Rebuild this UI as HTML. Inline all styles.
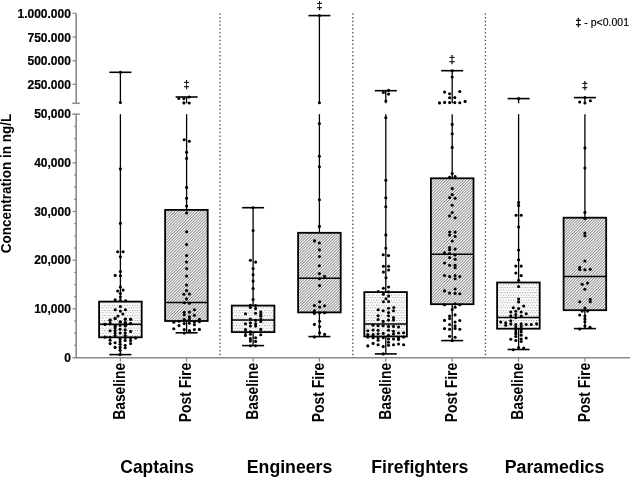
<!DOCTYPE html>
<html><head><meta charset="utf-8"><title>Concentration chart</title>
<style>
html,body{margin:0;padding:0;background:#fff;}
svg{display:block;}
text{font-family:'Liberation Sans', Arial, Helvetica, sans-serif;fill:#000;}
.tl{font-size:12px;font-weight:bold;stroke:#000;stroke-width:0.2px;}
.yt{font-size:14px;font-weight:bold;}
.xl{font-size:15.6px;font-weight:bold;}
.gl{font-size:17.8px;font-weight:bold;}
.lg{font-size:10.5px;stroke:#000;stroke-width:0.15px;}
.dg{font-size:11px;stroke:#000;stroke-width:0.25px;}
</style></head>
<body>
<svg width="630" height="477" viewBox="0 0 630 477">
<defs>
<pattern id="pdot" patternUnits="userSpaceOnUse" width="2.54" height="5.08">
<rect width="2.54" height="5.08" fill="#fff"/>
<rect x="0" y="0" width="1.0" height="1.0" fill="#8e8e8e"/>
<rect x="1.27" y="2.54" width="1.0" height="1.0" fill="#8e8e8e"/>
</pattern>
<pattern id="phatch" patternUnits="userSpaceOnUse" width="2.02" height="4" patternTransform="rotate(45)">
<rect width="2.02" height="4" fill="#fff"/>
<rect x="0" y="0" width="0.95" height="4" fill="#8a8a8a"/>
</pattern>
</defs>
<rect width="630" height="477" fill="#fff"/>
<line x1="76.2" y1="13.4" x2="76.2" y2="103.3" stroke="#8a8a8a" stroke-width="1.6"/>
<line x1="72.3" y1="103.3" x2="79.8" y2="103.3" stroke="#8a8a8a" stroke-width="1.5"/>
<line x1="72.6" y1="13.40" x2="76.2" y2="13.40" stroke="#8a8a8a" stroke-width="1.3"/>
<line x1="72.6" y1="37.06" x2="76.2" y2="37.06" stroke="#8a8a8a" stroke-width="1.3"/>
<line x1="72.6" y1="60.72" x2="76.2" y2="60.72" stroke="#8a8a8a" stroke-width="1.3"/>
<line x1="72.6" y1="84.37" x2="76.2" y2="84.37" stroke="#8a8a8a" stroke-width="1.3"/>
<line x1="76.2" y1="114.2" x2="76.2" y2="357.8" stroke="#8a8a8a" stroke-width="1.6"/>
<line x1="72.3" y1="114.2" x2="79.8" y2="114.2" stroke="#8a8a8a" stroke-width="1.5"/>
<line x1="74.0" y1="345.33" x2="76.2" y2="345.33" stroke="#8a8a8a" stroke-width="1.2"/>
<line x1="74.0" y1="333.17" x2="76.2" y2="333.17" stroke="#8a8a8a" stroke-width="1.2"/>
<line x1="74.0" y1="321.00" x2="76.2" y2="321.00" stroke="#8a8a8a" stroke-width="1.2"/>
<line x1="72.6" y1="308.84" x2="76.2" y2="308.84" stroke="#8a8a8a" stroke-width="1.3"/>
<line x1="74.0" y1="296.68" x2="76.2" y2="296.68" stroke="#8a8a8a" stroke-width="1.2"/>
<line x1="74.0" y1="284.51" x2="76.2" y2="284.51" stroke="#8a8a8a" stroke-width="1.2"/>
<line x1="74.0" y1="272.35" x2="76.2" y2="272.35" stroke="#8a8a8a" stroke-width="1.2"/>
<line x1="72.6" y1="260.18" x2="76.2" y2="260.18" stroke="#8a8a8a" stroke-width="1.3"/>
<line x1="74.0" y1="248.01" x2="76.2" y2="248.01" stroke="#8a8a8a" stroke-width="1.2"/>
<line x1="74.0" y1="235.85" x2="76.2" y2="235.85" stroke="#8a8a8a" stroke-width="1.2"/>
<line x1="74.0" y1="223.69" x2="76.2" y2="223.69" stroke="#8a8a8a" stroke-width="1.2"/>
<line x1="72.6" y1="211.52" x2="76.2" y2="211.52" stroke="#8a8a8a" stroke-width="1.3"/>
<line x1="74.0" y1="199.35" x2="76.2" y2="199.35" stroke="#8a8a8a" stroke-width="1.2"/>
<line x1="74.0" y1="187.19" x2="76.2" y2="187.19" stroke="#8a8a8a" stroke-width="1.2"/>
<line x1="74.0" y1="175.03" x2="76.2" y2="175.03" stroke="#8a8a8a" stroke-width="1.2"/>
<line x1="72.6" y1="162.86" x2="76.2" y2="162.86" stroke="#8a8a8a" stroke-width="1.3"/>
<line x1="74.0" y1="150.69" x2="76.2" y2="150.69" stroke="#8a8a8a" stroke-width="1.2"/>
<line x1="74.0" y1="138.53" x2="76.2" y2="138.53" stroke="#8a8a8a" stroke-width="1.2"/>
<line x1="74.0" y1="126.37" x2="76.2" y2="126.37" stroke="#8a8a8a" stroke-width="1.2"/>
<line x1="72.5" y1="357.8" x2="630" y2="357.8" stroke="#8a8a8a" stroke-width="1.5"/>
<text x="70.9" y="18.00" text-anchor="end" class="tl">1.000.000</text>
<text x="70.9" y="41.66" text-anchor="end" class="tl">750.000</text>
<text x="70.9" y="65.32" text-anchor="end" class="tl">500.000</text>
<text x="70.9" y="88.97" text-anchor="end" class="tl">250.000</text>
<text x="70.9" y="118.40" text-anchor="end" class="tl">50,000</text>
<text x="70.9" y="167.06" text-anchor="end" class="tl">40,000</text>
<text x="70.9" y="215.72" text-anchor="end" class="tl">30,000</text>
<text x="70.9" y="264.38" text-anchor="end" class="tl">20,000</text>
<text x="70.9" y="313.04" text-anchor="end" class="tl">10,000</text>
<text x="70.9" y="361.70" text-anchor="end" class="tl">0</text>
<text transform="translate(10.9,183.5) rotate(-90) scale(0.965,1)" text-anchor="middle" class="yt">Concentration in ng/L</text>
<rect x="219.35" y="13.35" width="1.25" height="1.35" fill="#3c3c3c"/>
<rect x="219.35" y="17.08" width="1.25" height="1.35" fill="#3c3c3c"/>
<rect x="219.35" y="20.80" width="1.25" height="1.35" fill="#3c3c3c"/>
<rect x="219.35" y="24.52" width="1.25" height="1.35" fill="#3c3c3c"/>
<rect x="219.35" y="28.25" width="1.25" height="1.35" fill="#3c3c3c"/>
<rect x="219.35" y="32.08" width="1.25" height="1.35" fill="#3c3c3c"/>
<rect x="219.35" y="35.91" width="1.25" height="1.35" fill="#3c3c3c"/>
<rect x="219.35" y="39.74" width="1.25" height="1.35" fill="#3c3c3c"/>
<rect x="219.35" y="43.57" width="1.25" height="1.35" fill="#3c3c3c"/>
<rect x="219.35" y="47.40" width="1.25" height="1.35" fill="#3c3c3c"/>
<rect x="219.35" y="51.23" width="1.25" height="1.35" fill="#3c3c3c"/>
<rect x="219.35" y="55.06" width="1.25" height="1.35" fill="#3c3c3c"/>
<rect x="219.35" y="58.89" width="1.25" height="1.35" fill="#3c3c3c"/>
<rect x="219.35" y="62.72" width="1.25" height="1.35" fill="#3c3c3c"/>
<rect x="219.35" y="66.56" width="1.25" height="1.35" fill="#3c3c3c"/>
<rect x="219.35" y="70.39" width="1.25" height="1.35" fill="#3c3c3c"/>
<rect x="219.35" y="74.22" width="1.25" height="1.35" fill="#3c3c3c"/>
<rect x="219.35" y="78.05" width="1.25" height="1.35" fill="#3c3c3c"/>
<rect x="219.35" y="81.88" width="1.25" height="1.35" fill="#3c3c3c"/>
<rect x="219.35" y="85.71" width="1.25" height="1.35" fill="#3c3c3c"/>
<rect x="219.35" y="89.54" width="1.25" height="1.35" fill="#3c3c3c"/>
<rect x="219.35" y="93.37" width="1.25" height="1.35" fill="#3c3c3c"/>
<rect x="219.35" y="97.20" width="1.25" height="1.35" fill="#3c3c3c"/>
<rect x="219.35" y="101.03" width="1.25" height="1.35" fill="#3c3c3c"/>
<rect x="219.35" y="104.87" width="1.25" height="1.35" fill="#3c3c3c"/>
<rect x="219.35" y="108.70" width="1.25" height="1.35" fill="#3c3c3c"/>
<rect x="219.35" y="112.53" width="1.25" height="1.35" fill="#3c3c3c"/>
<rect x="219.35" y="116.36" width="1.25" height="1.35" fill="#3c3c3c"/>
<rect x="219.35" y="120.20" width="1.25" height="1.35" fill="#3c3c3c"/>
<rect x="219.35" y="124.03" width="1.25" height="1.35" fill="#3c3c3c"/>
<rect x="219.35" y="127.86" width="1.25" height="1.35" fill="#3c3c3c"/>
<rect x="219.35" y="131.69" width="1.25" height="1.35" fill="#3c3c3c"/>
<rect x="219.35" y="135.53" width="1.25" height="1.35" fill="#3c3c3c"/>
<rect x="219.35" y="139.36" width="1.25" height="1.35" fill="#3c3c3c"/>
<rect x="219.35" y="143.19" width="1.25" height="1.35" fill="#3c3c3c"/>
<rect x="219.35" y="147.03" width="1.25" height="1.35" fill="#3c3c3c"/>
<rect x="219.35" y="150.86" width="1.25" height="1.35" fill="#3c3c3c"/>
<rect x="219.35" y="154.69" width="1.25" height="1.35" fill="#3c3c3c"/>
<rect x="219.35" y="158.52" width="1.25" height="1.35" fill="#3c3c3c"/>
<rect x="219.35" y="162.36" width="1.25" height="1.35" fill="#3c3c3c"/>
<rect x="219.35" y="166.19" width="1.25" height="1.35" fill="#3c3c3c"/>
<rect x="219.35" y="170.02" width="1.25" height="1.35" fill="#3c3c3c"/>
<rect x="219.35" y="173.85" width="1.25" height="1.35" fill="#3c3c3c"/>
<rect x="219.35" y="177.69" width="1.25" height="1.35" fill="#3c3c3c"/>
<rect x="219.35" y="181.52" width="1.25" height="1.35" fill="#3c3c3c"/>
<rect x="219.35" y="185.35" width="1.25" height="1.35" fill="#3c3c3c"/>
<rect x="219.35" y="189.18" width="1.25" height="1.35" fill="#3c3c3c"/>
<rect x="219.35" y="193.02" width="1.25" height="1.35" fill="#3c3c3c"/>
<rect x="219.35" y="196.85" width="1.25" height="1.35" fill="#3c3c3c"/>
<rect x="219.35" y="200.68" width="1.25" height="1.35" fill="#3c3c3c"/>
<rect x="219.35" y="204.52" width="1.25" height="1.35" fill="#3c3c3c"/>
<rect x="219.35" y="208.35" width="1.25" height="1.35" fill="#3c3c3c"/>
<rect x="219.35" y="212.18" width="1.25" height="1.35" fill="#3c3c3c"/>
<rect x="219.35" y="216.02" width="1.25" height="1.35" fill="#3c3c3c"/>
<rect x="219.35" y="219.85" width="1.25" height="1.35" fill="#3c3c3c"/>
<rect x="219.35" y="223.68" width="1.25" height="1.35" fill="#3c3c3c"/>
<rect x="219.35" y="227.52" width="1.25" height="1.35" fill="#3c3c3c"/>
<rect x="219.35" y="231.35" width="1.25" height="1.35" fill="#3c3c3c"/>
<rect x="219.35" y="235.18" width="1.25" height="1.35" fill="#3c3c3c"/>
<rect x="219.35" y="239.02" width="1.25" height="1.35" fill="#3c3c3c"/>
<rect x="219.35" y="242.85" width="1.25" height="1.35" fill="#3c3c3c"/>
<rect x="219.35" y="246.68" width="1.25" height="1.35" fill="#3c3c3c"/>
<rect x="219.35" y="250.52" width="1.25" height="1.35" fill="#3c3c3c"/>
<rect x="219.35" y="254.35" width="1.25" height="1.35" fill="#3c3c3c"/>
<rect x="219.35" y="258.18" width="1.25" height="1.35" fill="#3c3c3c"/>
<rect x="219.35" y="262.02" width="1.25" height="1.35" fill="#3c3c3c"/>
<rect x="219.35" y="265.85" width="1.25" height="1.35" fill="#3c3c3c"/>
<rect x="219.35" y="269.69" width="1.25" height="1.35" fill="#3c3c3c"/>
<rect x="219.35" y="273.53" width="1.25" height="1.35" fill="#3c3c3c"/>
<rect x="219.35" y="277.38" width="1.25" height="1.35" fill="#3c3c3c"/>
<rect x="219.35" y="281.22" width="1.25" height="1.35" fill="#3c3c3c"/>
<rect x="219.35" y="285.06" width="1.25" height="1.35" fill="#3c3c3c"/>
<rect x="219.35" y="288.90" width="1.25" height="1.35" fill="#3c3c3c"/>
<rect x="219.35" y="292.74" width="1.25" height="1.35" fill="#3c3c3c"/>
<rect x="219.35" y="296.59" width="1.25" height="1.35" fill="#3c3c3c"/>
<rect x="219.35" y="300.43" width="1.25" height="1.35" fill="#3c3c3c"/>
<rect x="219.35" y="304.27" width="1.25" height="1.35" fill="#3c3c3c"/>
<rect x="219.35" y="308.11" width="1.25" height="1.35" fill="#3c3c3c"/>
<rect x="219.35" y="311.96" width="1.25" height="1.35" fill="#3c3c3c"/>
<rect x="219.35" y="315.80" width="1.25" height="1.35" fill="#3c3c3c"/>
<rect x="219.35" y="319.64" width="1.25" height="1.35" fill="#3c3c3c"/>
<rect x="219.35" y="323.48" width="1.25" height="1.35" fill="#3c3c3c"/>
<rect x="219.35" y="327.32" width="1.25" height="1.35" fill="#3c3c3c"/>
<rect x="219.35" y="331.17" width="1.25" height="1.35" fill="#3c3c3c"/>
<rect x="219.35" y="335.01" width="1.25" height="1.35" fill="#3c3c3c"/>
<rect x="219.35" y="338.85" width="1.25" height="1.35" fill="#3c3c3c"/>
<rect x="219.35" y="342.58" width="1.25" height="1.35" fill="#3c3c3c"/>
<rect x="219.35" y="346.30" width="1.25" height="1.35" fill="#3c3c3c"/>
<rect x="219.35" y="350.02" width="1.25" height="1.35" fill="#3c3c3c"/>
<rect x="219.35" y="353.75" width="1.25" height="1.35" fill="#3c3c3c"/>
<rect x="352.20" y="13.35" width="1.25" height="1.35" fill="#3c3c3c"/>
<rect x="352.20" y="17.08" width="1.25" height="1.35" fill="#3c3c3c"/>
<rect x="352.20" y="20.80" width="1.25" height="1.35" fill="#3c3c3c"/>
<rect x="352.20" y="24.52" width="1.25" height="1.35" fill="#3c3c3c"/>
<rect x="352.20" y="28.25" width="1.25" height="1.35" fill="#3c3c3c"/>
<rect x="352.20" y="32.08" width="1.25" height="1.35" fill="#3c3c3c"/>
<rect x="352.20" y="35.91" width="1.25" height="1.35" fill="#3c3c3c"/>
<rect x="352.20" y="39.74" width="1.25" height="1.35" fill="#3c3c3c"/>
<rect x="352.20" y="43.57" width="1.25" height="1.35" fill="#3c3c3c"/>
<rect x="352.20" y="47.40" width="1.25" height="1.35" fill="#3c3c3c"/>
<rect x="352.20" y="51.23" width="1.25" height="1.35" fill="#3c3c3c"/>
<rect x="352.20" y="55.06" width="1.25" height="1.35" fill="#3c3c3c"/>
<rect x="352.20" y="58.89" width="1.25" height="1.35" fill="#3c3c3c"/>
<rect x="352.20" y="62.72" width="1.25" height="1.35" fill="#3c3c3c"/>
<rect x="352.20" y="66.56" width="1.25" height="1.35" fill="#3c3c3c"/>
<rect x="352.20" y="70.39" width="1.25" height="1.35" fill="#3c3c3c"/>
<rect x="352.20" y="74.22" width="1.25" height="1.35" fill="#3c3c3c"/>
<rect x="352.20" y="78.05" width="1.25" height="1.35" fill="#3c3c3c"/>
<rect x="352.20" y="81.88" width="1.25" height="1.35" fill="#3c3c3c"/>
<rect x="352.20" y="85.71" width="1.25" height="1.35" fill="#3c3c3c"/>
<rect x="352.20" y="89.54" width="1.25" height="1.35" fill="#3c3c3c"/>
<rect x="352.20" y="93.37" width="1.25" height="1.35" fill="#3c3c3c"/>
<rect x="352.20" y="97.20" width="1.25" height="1.35" fill="#3c3c3c"/>
<rect x="352.20" y="101.03" width="1.25" height="1.35" fill="#3c3c3c"/>
<rect x="352.20" y="104.87" width="1.25" height="1.35" fill="#3c3c3c"/>
<rect x="352.20" y="108.70" width="1.25" height="1.35" fill="#3c3c3c"/>
<rect x="352.20" y="112.53" width="1.25" height="1.35" fill="#3c3c3c"/>
<rect x="352.20" y="116.36" width="1.25" height="1.35" fill="#3c3c3c"/>
<rect x="352.20" y="120.20" width="1.25" height="1.35" fill="#3c3c3c"/>
<rect x="352.20" y="124.03" width="1.25" height="1.35" fill="#3c3c3c"/>
<rect x="352.20" y="127.86" width="1.25" height="1.35" fill="#3c3c3c"/>
<rect x="352.20" y="131.69" width="1.25" height="1.35" fill="#3c3c3c"/>
<rect x="352.20" y="135.53" width="1.25" height="1.35" fill="#3c3c3c"/>
<rect x="352.20" y="139.36" width="1.25" height="1.35" fill="#3c3c3c"/>
<rect x="352.20" y="143.19" width="1.25" height="1.35" fill="#3c3c3c"/>
<rect x="352.20" y="147.03" width="1.25" height="1.35" fill="#3c3c3c"/>
<rect x="352.20" y="150.86" width="1.25" height="1.35" fill="#3c3c3c"/>
<rect x="352.20" y="154.69" width="1.25" height="1.35" fill="#3c3c3c"/>
<rect x="352.20" y="158.52" width="1.25" height="1.35" fill="#3c3c3c"/>
<rect x="352.20" y="162.36" width="1.25" height="1.35" fill="#3c3c3c"/>
<rect x="352.20" y="166.19" width="1.25" height="1.35" fill="#3c3c3c"/>
<rect x="352.20" y="170.02" width="1.25" height="1.35" fill="#3c3c3c"/>
<rect x="352.20" y="173.85" width="1.25" height="1.35" fill="#3c3c3c"/>
<rect x="352.20" y="177.69" width="1.25" height="1.35" fill="#3c3c3c"/>
<rect x="352.20" y="181.52" width="1.25" height="1.35" fill="#3c3c3c"/>
<rect x="352.20" y="185.35" width="1.25" height="1.35" fill="#3c3c3c"/>
<rect x="352.20" y="189.18" width="1.25" height="1.35" fill="#3c3c3c"/>
<rect x="352.20" y="193.02" width="1.25" height="1.35" fill="#3c3c3c"/>
<rect x="352.20" y="196.85" width="1.25" height="1.35" fill="#3c3c3c"/>
<rect x="352.20" y="200.68" width="1.25" height="1.35" fill="#3c3c3c"/>
<rect x="352.20" y="204.52" width="1.25" height="1.35" fill="#3c3c3c"/>
<rect x="352.20" y="208.35" width="1.25" height="1.35" fill="#3c3c3c"/>
<rect x="352.20" y="212.18" width="1.25" height="1.35" fill="#3c3c3c"/>
<rect x="352.20" y="216.02" width="1.25" height="1.35" fill="#3c3c3c"/>
<rect x="352.20" y="219.85" width="1.25" height="1.35" fill="#3c3c3c"/>
<rect x="352.20" y="223.68" width="1.25" height="1.35" fill="#3c3c3c"/>
<rect x="352.20" y="227.52" width="1.25" height="1.35" fill="#3c3c3c"/>
<rect x="352.20" y="231.35" width="1.25" height="1.35" fill="#3c3c3c"/>
<rect x="352.20" y="235.18" width="1.25" height="1.35" fill="#3c3c3c"/>
<rect x="352.20" y="239.02" width="1.25" height="1.35" fill="#3c3c3c"/>
<rect x="352.20" y="242.85" width="1.25" height="1.35" fill="#3c3c3c"/>
<rect x="352.20" y="246.68" width="1.25" height="1.35" fill="#3c3c3c"/>
<rect x="352.20" y="250.52" width="1.25" height="1.35" fill="#3c3c3c"/>
<rect x="352.20" y="254.35" width="1.25" height="1.35" fill="#3c3c3c"/>
<rect x="352.20" y="258.18" width="1.25" height="1.35" fill="#3c3c3c"/>
<rect x="352.20" y="262.02" width="1.25" height="1.35" fill="#3c3c3c"/>
<rect x="352.20" y="265.85" width="1.25" height="1.35" fill="#3c3c3c"/>
<rect x="352.20" y="269.69" width="1.25" height="1.35" fill="#3c3c3c"/>
<rect x="352.20" y="273.53" width="1.25" height="1.35" fill="#3c3c3c"/>
<rect x="352.20" y="277.38" width="1.25" height="1.35" fill="#3c3c3c"/>
<rect x="352.20" y="281.22" width="1.25" height="1.35" fill="#3c3c3c"/>
<rect x="352.20" y="285.06" width="1.25" height="1.35" fill="#3c3c3c"/>
<rect x="352.20" y="288.90" width="1.25" height="1.35" fill="#3c3c3c"/>
<rect x="352.20" y="292.74" width="1.25" height="1.35" fill="#3c3c3c"/>
<rect x="352.20" y="296.59" width="1.25" height="1.35" fill="#3c3c3c"/>
<rect x="352.20" y="300.43" width="1.25" height="1.35" fill="#3c3c3c"/>
<rect x="352.20" y="304.27" width="1.25" height="1.35" fill="#3c3c3c"/>
<rect x="352.20" y="308.11" width="1.25" height="1.35" fill="#3c3c3c"/>
<rect x="352.20" y="311.96" width="1.25" height="1.35" fill="#3c3c3c"/>
<rect x="352.20" y="315.80" width="1.25" height="1.35" fill="#3c3c3c"/>
<rect x="352.20" y="319.64" width="1.25" height="1.35" fill="#3c3c3c"/>
<rect x="352.20" y="323.48" width="1.25" height="1.35" fill="#3c3c3c"/>
<rect x="352.20" y="327.32" width="1.25" height="1.35" fill="#3c3c3c"/>
<rect x="352.20" y="331.17" width="1.25" height="1.35" fill="#3c3c3c"/>
<rect x="352.20" y="335.01" width="1.25" height="1.35" fill="#3c3c3c"/>
<rect x="352.20" y="338.85" width="1.25" height="1.35" fill="#3c3c3c"/>
<rect x="352.20" y="342.58" width="1.25" height="1.35" fill="#3c3c3c"/>
<rect x="352.20" y="346.30" width="1.25" height="1.35" fill="#3c3c3c"/>
<rect x="352.20" y="350.02" width="1.25" height="1.35" fill="#3c3c3c"/>
<rect x="352.20" y="353.75" width="1.25" height="1.35" fill="#3c3c3c"/>
<rect x="484.80" y="13.35" width="1.25" height="1.35" fill="#3c3c3c"/>
<rect x="484.80" y="17.08" width="1.25" height="1.35" fill="#3c3c3c"/>
<rect x="484.80" y="20.80" width="1.25" height="1.35" fill="#3c3c3c"/>
<rect x="484.80" y="24.52" width="1.25" height="1.35" fill="#3c3c3c"/>
<rect x="484.80" y="28.25" width="1.25" height="1.35" fill="#3c3c3c"/>
<rect x="484.80" y="32.08" width="1.25" height="1.35" fill="#3c3c3c"/>
<rect x="484.80" y="35.91" width="1.25" height="1.35" fill="#3c3c3c"/>
<rect x="484.80" y="39.74" width="1.25" height="1.35" fill="#3c3c3c"/>
<rect x="484.80" y="43.57" width="1.25" height="1.35" fill="#3c3c3c"/>
<rect x="484.80" y="47.40" width="1.25" height="1.35" fill="#3c3c3c"/>
<rect x="484.80" y="51.23" width="1.25" height="1.35" fill="#3c3c3c"/>
<rect x="484.80" y="55.06" width="1.25" height="1.35" fill="#3c3c3c"/>
<rect x="484.80" y="58.89" width="1.25" height="1.35" fill="#3c3c3c"/>
<rect x="484.80" y="62.72" width="1.25" height="1.35" fill="#3c3c3c"/>
<rect x="484.80" y="66.56" width="1.25" height="1.35" fill="#3c3c3c"/>
<rect x="484.80" y="70.39" width="1.25" height="1.35" fill="#3c3c3c"/>
<rect x="484.80" y="74.22" width="1.25" height="1.35" fill="#3c3c3c"/>
<rect x="484.80" y="78.05" width="1.25" height="1.35" fill="#3c3c3c"/>
<rect x="484.80" y="81.88" width="1.25" height="1.35" fill="#3c3c3c"/>
<rect x="484.80" y="85.71" width="1.25" height="1.35" fill="#3c3c3c"/>
<rect x="484.80" y="89.54" width="1.25" height="1.35" fill="#3c3c3c"/>
<rect x="484.80" y="93.37" width="1.25" height="1.35" fill="#3c3c3c"/>
<rect x="484.80" y="97.20" width="1.25" height="1.35" fill="#3c3c3c"/>
<rect x="484.80" y="101.03" width="1.25" height="1.35" fill="#3c3c3c"/>
<rect x="484.80" y="104.87" width="1.25" height="1.35" fill="#3c3c3c"/>
<rect x="484.80" y="108.70" width="1.25" height="1.35" fill="#3c3c3c"/>
<rect x="484.80" y="112.53" width="1.25" height="1.35" fill="#3c3c3c"/>
<rect x="484.80" y="116.36" width="1.25" height="1.35" fill="#3c3c3c"/>
<rect x="484.80" y="120.20" width="1.25" height="1.35" fill="#3c3c3c"/>
<rect x="484.80" y="124.03" width="1.25" height="1.35" fill="#3c3c3c"/>
<rect x="484.80" y="127.86" width="1.25" height="1.35" fill="#3c3c3c"/>
<rect x="484.80" y="131.69" width="1.25" height="1.35" fill="#3c3c3c"/>
<rect x="484.80" y="135.53" width="1.25" height="1.35" fill="#3c3c3c"/>
<rect x="484.80" y="139.36" width="1.25" height="1.35" fill="#3c3c3c"/>
<rect x="484.80" y="143.19" width="1.25" height="1.35" fill="#3c3c3c"/>
<rect x="484.80" y="147.03" width="1.25" height="1.35" fill="#3c3c3c"/>
<rect x="484.80" y="150.86" width="1.25" height="1.35" fill="#3c3c3c"/>
<rect x="484.80" y="154.69" width="1.25" height="1.35" fill="#3c3c3c"/>
<rect x="484.80" y="158.52" width="1.25" height="1.35" fill="#3c3c3c"/>
<rect x="484.80" y="162.36" width="1.25" height="1.35" fill="#3c3c3c"/>
<rect x="484.80" y="166.19" width="1.25" height="1.35" fill="#3c3c3c"/>
<rect x="484.80" y="170.02" width="1.25" height="1.35" fill="#3c3c3c"/>
<rect x="484.80" y="173.85" width="1.25" height="1.35" fill="#3c3c3c"/>
<rect x="484.80" y="177.69" width="1.25" height="1.35" fill="#3c3c3c"/>
<rect x="484.80" y="181.52" width="1.25" height="1.35" fill="#3c3c3c"/>
<rect x="484.80" y="185.35" width="1.25" height="1.35" fill="#3c3c3c"/>
<rect x="484.80" y="189.18" width="1.25" height="1.35" fill="#3c3c3c"/>
<rect x="484.80" y="193.02" width="1.25" height="1.35" fill="#3c3c3c"/>
<rect x="484.80" y="196.85" width="1.25" height="1.35" fill="#3c3c3c"/>
<rect x="484.80" y="200.68" width="1.25" height="1.35" fill="#3c3c3c"/>
<rect x="484.80" y="204.52" width="1.25" height="1.35" fill="#3c3c3c"/>
<rect x="484.80" y="208.35" width="1.25" height="1.35" fill="#3c3c3c"/>
<rect x="484.80" y="212.18" width="1.25" height="1.35" fill="#3c3c3c"/>
<rect x="484.80" y="216.02" width="1.25" height="1.35" fill="#3c3c3c"/>
<rect x="484.80" y="219.85" width="1.25" height="1.35" fill="#3c3c3c"/>
<rect x="484.80" y="223.68" width="1.25" height="1.35" fill="#3c3c3c"/>
<rect x="484.80" y="227.52" width="1.25" height="1.35" fill="#3c3c3c"/>
<rect x="484.80" y="231.35" width="1.25" height="1.35" fill="#3c3c3c"/>
<rect x="484.80" y="235.18" width="1.25" height="1.35" fill="#3c3c3c"/>
<rect x="484.80" y="239.02" width="1.25" height="1.35" fill="#3c3c3c"/>
<rect x="484.80" y="242.85" width="1.25" height="1.35" fill="#3c3c3c"/>
<rect x="484.80" y="246.68" width="1.25" height="1.35" fill="#3c3c3c"/>
<rect x="484.80" y="250.52" width="1.25" height="1.35" fill="#3c3c3c"/>
<rect x="484.80" y="254.35" width="1.25" height="1.35" fill="#3c3c3c"/>
<rect x="484.80" y="258.18" width="1.25" height="1.35" fill="#3c3c3c"/>
<rect x="484.80" y="262.02" width="1.25" height="1.35" fill="#3c3c3c"/>
<rect x="484.80" y="265.85" width="1.25" height="1.35" fill="#3c3c3c"/>
<rect x="484.80" y="269.69" width="1.25" height="1.35" fill="#3c3c3c"/>
<rect x="484.80" y="273.53" width="1.25" height="1.35" fill="#3c3c3c"/>
<rect x="484.80" y="277.38" width="1.25" height="1.35" fill="#3c3c3c"/>
<rect x="484.80" y="281.22" width="1.25" height="1.35" fill="#3c3c3c"/>
<rect x="484.80" y="285.06" width="1.25" height="1.35" fill="#3c3c3c"/>
<rect x="484.80" y="288.90" width="1.25" height="1.35" fill="#3c3c3c"/>
<rect x="484.80" y="292.74" width="1.25" height="1.35" fill="#3c3c3c"/>
<rect x="484.80" y="296.59" width="1.25" height="1.35" fill="#3c3c3c"/>
<rect x="484.80" y="300.43" width="1.25" height="1.35" fill="#3c3c3c"/>
<rect x="484.80" y="304.27" width="1.25" height="1.35" fill="#3c3c3c"/>
<rect x="484.80" y="308.11" width="1.25" height="1.35" fill="#3c3c3c"/>
<rect x="484.80" y="311.96" width="1.25" height="1.35" fill="#3c3c3c"/>
<rect x="484.80" y="315.80" width="1.25" height="1.35" fill="#3c3c3c"/>
<rect x="484.80" y="319.64" width="1.25" height="1.35" fill="#3c3c3c"/>
<rect x="484.80" y="323.48" width="1.25" height="1.35" fill="#3c3c3c"/>
<rect x="484.80" y="327.32" width="1.25" height="1.35" fill="#3c3c3c"/>
<rect x="484.80" y="331.17" width="1.25" height="1.35" fill="#3c3c3c"/>
<rect x="484.80" y="335.01" width="1.25" height="1.35" fill="#3c3c3c"/>
<rect x="484.80" y="338.85" width="1.25" height="1.35" fill="#3c3c3c"/>
<rect x="484.80" y="342.58" width="1.25" height="1.35" fill="#3c3c3c"/>
<rect x="484.80" y="346.30" width="1.25" height="1.35" fill="#3c3c3c"/>
<rect x="484.80" y="350.02" width="1.25" height="1.35" fill="#3c3c3c"/>
<rect x="484.80" y="353.75" width="1.25" height="1.35" fill="#3c3c3c"/>
<line x1="120.4" y1="72.3" x2="120.4" y2="103.3" stroke="#000" stroke-width="1.3"/>
<line x1="109.40" y1="72.3" x2="131.40" y2="72.3" stroke="#000" stroke-width="1.6"/>
<line x1="120.4" y1="114.2" x2="120.4" y2="301.6" stroke="#000" stroke-width="1.3"/>
<line x1="120.4" y1="337.3" x2="120.4" y2="354.6" stroke="#000" stroke-width="1.3"/>
<line x1="109.40" y1="354.6" x2="131.40" y2="354.6" stroke="#000" stroke-width="1.6"/>
<rect x="99.10" y="301.6" width="42.60" height="35.70" fill="url(#pdot)" stroke="#000" stroke-width="1.8"/>
<line x1="99.10" y1="324.3" x2="141.70" y2="324.3" stroke="#000" stroke-width="1.5"/>
<circle cx="120.4" cy="72.3" r="1.55"/>
<circle cx="120.4" cy="102.5" r="1.55"/>
<circle cx="120.4" cy="168.9" r="1.55"/>
<circle cx="120.4" cy="223.4" r="1.55"/>
<circle cx="117.7" cy="251.8" r="1.55"/>
<circle cx="123.1" cy="251.8" r="1.55"/>
<circle cx="120.4" cy="256.7" r="1.55"/>
<circle cx="120.4" cy="271.6" r="1.55"/>
<circle cx="115.2" cy="275.4" r="1.55"/>
<circle cx="120.4" cy="275.8" r="1.55"/>
<circle cx="120.4" cy="286.9" r="1.55"/>
<circle cx="117.7" cy="291" r="1.55"/>
<circle cx="123.1" cy="290.1" r="1.55"/>
<circle cx="120.4" cy="293.5" r="1.55"/>
<circle cx="120.4" cy="297.1" r="1.55"/>
<circle cx="115.2" cy="299.9" r="1.55"/>
<circle cx="120.4" cy="300.5" r="1.55"/>
<circle cx="125.6" cy="300.8" r="1.55"/>
<circle cx="120.4" cy="306.5" r="1.55"/>
<circle cx="115.2" cy="309.7" r="1.55"/>
<circle cx="125.4" cy="309.7" r="1.55"/>
<circle cx="120.4" cy="311.1" r="1.55"/>
<circle cx="122.8" cy="314" r="1.55"/>
<circle cx="118" cy="316" r="1.55"/>
<circle cx="115.2" cy="318.4" r="1.55"/>
<circle cx="125.4" cy="319" r="1.55"/>
<circle cx="130.6" cy="319.2" r="1.55"/>
<circle cx="110.1" cy="320.4" r="1.55"/>
<circle cx="120.4" cy="322" r="1.55"/>
<circle cx="125.4" cy="322.8" r="1.55"/>
<circle cx="104.9" cy="324.2" r="1.55"/>
<circle cx="110.1" cy="323.6" r="1.55"/>
<circle cx="130.6" cy="323.6" r="1.55"/>
<circle cx="125.4" cy="325.2" r="1.55"/>
<circle cx="115.2" cy="326" r="1.55"/>
<circle cx="105.0" cy="324.3" r="1.55"/>
<circle cx="105.0" cy="337.1" r="1.55"/>
<circle cx="110.1" cy="320.1" r="1.55"/>
<circle cx="110.1" cy="323.9" r="1.55"/>
<circle cx="110.1" cy="330.7" r="1.55"/>
<circle cx="110.1" cy="337.3" r="1.55"/>
<circle cx="110.1" cy="340.2" r="1.55"/>
<circle cx="110.1" cy="343.6" r="1.55"/>
<circle cx="115.1" cy="318.4" r="1.55"/>
<circle cx="115.1" cy="326" r="1.55"/>
<circle cx="115.1" cy="328.1" r="1.55"/>
<circle cx="115.1" cy="330.6" r="1.55"/>
<circle cx="115.1" cy="333.1" r="1.55"/>
<circle cx="115.1" cy="335.6" r="1.55"/>
<circle cx="115.1" cy="342.7" r="1.55"/>
<circle cx="115.1" cy="347.4" r="1.55"/>
<circle cx="120.1" cy="321.8" r="1.55"/>
<circle cx="120.1" cy="325.5" r="1.55"/>
<circle cx="120.1" cy="329.3" r="1.55"/>
<circle cx="120.1" cy="333.1" r="1.55"/>
<circle cx="120.1" cy="339" r="1.55"/>
<circle cx="120.1" cy="341.6" r="1.55"/>
<circle cx="120.1" cy="344.2" r="1.55"/>
<circle cx="120.1" cy="347.4" r="1.55"/>
<circle cx="120.1" cy="350.3" r="1.55"/>
<circle cx="120.1" cy="354.6" r="1.55"/>
<circle cx="125.2" cy="319.3" r="1.55"/>
<circle cx="125.2" cy="322.6" r="1.55"/>
<circle cx="125.2" cy="326" r="1.55"/>
<circle cx="125.2" cy="329.7" r="1.55"/>
<circle cx="125.2" cy="332.7" r="1.55"/>
<circle cx="125.2" cy="335.6" r="1.55"/>
<circle cx="125.2" cy="337.8" r="1.55"/>
<circle cx="125.2" cy="340.5" r="1.55"/>
<circle cx="125.2" cy="345.3" r="1.55"/>
<circle cx="125.2" cy="347.8" r="1.55"/>
<circle cx="130.6" cy="319.3" r="1.55"/>
<circle cx="130.6" cy="323.5" r="1.55"/>
<circle cx="130.6" cy="331.4" r="1.55"/>
<circle cx="130.6" cy="338.1" r="1.55"/>
<circle cx="130.6" cy="340.6" r="1.55"/>
<circle cx="130.6" cy="343.6" r="1.55"/>
<circle cx="135.6" cy="338.1" r="1.55"/>
<line x1="186.6" y1="97.0" x2="186.6" y2="103.3" stroke="#000" stroke-width="1.3"/>
<line x1="175.60" y1="97.0" x2="197.60" y2="97.0" stroke="#000" stroke-width="1.6"/>
<line x1="186.6" y1="114.2" x2="186.6" y2="209.9" stroke="#000" stroke-width="1.3"/>
<line x1="186.6" y1="321.0" x2="186.6" y2="332.8" stroke="#000" stroke-width="1.3"/>
<line x1="175.60" y1="332.8" x2="197.60" y2="332.8" stroke="#000" stroke-width="1.6"/>
<rect x="165.10" y="209.9" width="42.60" height="111.10" fill="url(#phatch)" stroke="#000" stroke-width="1.8"/>
<line x1="165.10" y1="302.6" x2="207.70" y2="302.6" stroke="#000" stroke-width="1.5"/>
<circle cx="178.8" cy="98.5" r="1.55"/>
<circle cx="183.8" cy="98.6" r="1.55"/>
<circle cx="189.2" cy="97" r="1.55"/>
<circle cx="183.9" cy="102.9" r="1.55"/>
<circle cx="189.2" cy="103" r="1.55"/>
<circle cx="184.2" cy="139.7" r="1.55"/>
<circle cx="189.3" cy="141.2" r="1.55"/>
<circle cx="186.6" cy="152.2" r="1.55"/>
<circle cx="186.6" cy="158.4" r="1.55"/>
<circle cx="186.6" cy="187.4" r="1.55"/>
<circle cx="186.6" cy="198.3" r="1.55"/>
<circle cx="186.6" cy="206" r="1.55"/>
<circle cx="186.6" cy="212.9" r="1.55"/>
<circle cx="186.6" cy="231.7" r="1.55"/>
<circle cx="186.6" cy="244.6" r="1.55"/>
<circle cx="186.6" cy="255.6" r="1.55"/>
<circle cx="186.6" cy="262" r="1.55"/>
<circle cx="186.6" cy="268.6" r="1.55"/>
<circle cx="186.6" cy="276.1" r="1.55"/>
<circle cx="186.6" cy="285.1" r="1.55"/>
<circle cx="186.6" cy="290.6" r="1.55"/>
<circle cx="183.9" cy="294.3" r="1.55"/>
<circle cx="189.4" cy="294" r="1.55"/>
<circle cx="186.6" cy="298.9" r="1.55"/>
<circle cx="184.2" cy="302.8" r="1.55"/>
<circle cx="189.4" cy="303.3" r="1.55"/>
<circle cx="194.4" cy="309.8" r="1.55"/>
<circle cx="184.2" cy="312.3" r="1.55"/>
<circle cx="189.4" cy="312.1" r="1.55"/>
<circle cx="184.2" cy="314.8" r="1.55"/>
<circle cx="194.4" cy="315.2" r="1.55"/>
<circle cx="189.4" cy="316.9" r="1.55"/>
<circle cx="184.2" cy="319.5" r="1.55"/>
<circle cx="189.4" cy="319.5" r="1.55"/>
<circle cx="199.4" cy="319.2" r="1.55"/>
<circle cx="173.8" cy="322.3" r="1.55"/>
<circle cx="179" cy="321.3" r="1.55"/>
<circle cx="184.2" cy="323.6" r="1.55"/>
<circle cx="189.4" cy="323.3" r="1.55"/>
<circle cx="194.4" cy="322.1" r="1.55"/>
<circle cx="199.4" cy="321.8" r="1.55"/>
<circle cx="179" cy="325.6" r="1.55"/>
<circle cx="194.4" cy="324.8" r="1.55"/>
<circle cx="173.8" cy="328.7" r="1.55"/>
<circle cx="184.2" cy="329.6" r="1.55"/>
<circle cx="189.4" cy="330.5" r="1.55"/>
<circle cx="194.4" cy="329.6" r="1.55"/>
<circle cx="199.4" cy="329.4" r="1.55"/>
<circle cx="184.2" cy="333.1" r="1.55"/>
<circle cx="189.4" cy="331.7" r="1.55"/>
<line x1="242.10" y1="207.7" x2="264.10" y2="207.7" stroke="#000" stroke-width="1.6"/>
<line x1="253.1" y1="207.7" x2="253.1" y2="305.6" stroke="#000" stroke-width="1.3"/>
<line x1="253.1" y1="332.1" x2="253.1" y2="345.6" stroke="#000" stroke-width="1.3"/>
<line x1="242.10" y1="345.6" x2="264.10" y2="345.6" stroke="#000" stroke-width="1.6"/>
<rect x="231.80" y="305.6" width="42.60" height="26.50" fill="url(#pdot)" stroke="#000" stroke-width="1.8"/>
<line x1="231.80" y1="320.1" x2="274.40" y2="320.1" stroke="#000" stroke-width="1.5"/>
<circle cx="253.1" cy="207.7" r="1.55"/>
<circle cx="253.1" cy="230.5" r="1.55"/>
<circle cx="250.4" cy="260.3" r="1.55"/>
<circle cx="255.6" cy="262.1" r="1.55"/>
<circle cx="253.1" cy="268.6" r="1.55"/>
<circle cx="253.1" cy="274.8" r="1.55"/>
<circle cx="253.1" cy="281.1" r="1.55"/>
<circle cx="253.1" cy="288.6" r="1.55"/>
<circle cx="253.1" cy="299.5" r="1.55"/>
<circle cx="250.4" cy="305.2" r="1.55"/>
<circle cx="255.6" cy="305.6" r="1.55"/>
<circle cx="250.4" cy="307.5" r="1.55"/>
<circle cx="255.6" cy="308.6" r="1.55"/>
<circle cx="245.5" cy="313.7" r="1.55"/>
<circle cx="255.6" cy="313.2" r="1.55"/>
<circle cx="260.8" cy="312.1" r="1.55"/>
<circle cx="260.8" cy="314.4" r="1.55"/>
<circle cx="260.8" cy="316.3" r="1.55"/>
<circle cx="250.4" cy="319" r="1.55"/>
<circle cx="255.6" cy="320.4" r="1.55"/>
<circle cx="260.8" cy="319.2" r="1.55"/>
<circle cx="260.8" cy="321.5" r="1.55"/>
<circle cx="245.5" cy="323.8" r="1.55"/>
<circle cx="250.4" cy="322.7" r="1.55"/>
<circle cx="255.6" cy="323.8" r="1.55"/>
<circle cx="250.4" cy="325.9" r="1.55"/>
<circle cx="255.6" cy="326.1" r="1.55"/>
<circle cx="245.5" cy="329.6" r="1.55"/>
<circle cx="260.8" cy="329.4" r="1.55"/>
<circle cx="250.4" cy="331.7" r="1.55"/>
<circle cx="245.5" cy="332.5" r="1.55"/>
<circle cx="245.5" cy="335.4" r="1.55"/>
<circle cx="250.4" cy="334.2" r="1.55"/>
<circle cx="260.8" cy="334.8" r="1.55"/>
<circle cx="250.4" cy="338.6" r="1.55"/>
<circle cx="255.6" cy="337.7" r="1.55"/>
<circle cx="250.4" cy="341.1" r="1.55"/>
<circle cx="255.6" cy="341.4" r="1.55"/>
<circle cx="250.4" cy="345.7" r="1.55"/>
<circle cx="255.6" cy="345.7" r="1.55"/>
<line x1="319.4" y1="15.6" x2="319.4" y2="103.3" stroke="#000" stroke-width="1.3"/>
<line x1="308.40" y1="15.6" x2="330.40" y2="15.6" stroke="#000" stroke-width="1.6"/>
<line x1="319.4" y1="114.2" x2="319.4" y2="232.8" stroke="#000" stroke-width="1.3"/>
<line x1="319.4" y1="312.4" x2="319.4" y2="336.6" stroke="#000" stroke-width="1.3"/>
<line x1="308.40" y1="336.6" x2="330.40" y2="336.6" stroke="#000" stroke-width="1.6"/>
<rect x="298.10" y="232.8" width="42.60" height="79.60" fill="url(#phatch)" stroke="#000" stroke-width="1.8"/>
<line x1="298.10" y1="278.3" x2="340.70" y2="278.3" stroke="#000" stroke-width="1.5"/>
<circle cx="319.4" cy="15.6" r="1.55"/>
<circle cx="319.4" cy="102.7" r="1.55"/>
<circle cx="319.4" cy="123.6" r="1.55"/>
<circle cx="319.4" cy="156.3" r="1.55"/>
<circle cx="319.4" cy="166.7" r="1.55"/>
<circle cx="319.4" cy="199.8" r="1.55"/>
<circle cx="319.4" cy="226.4" r="1.55"/>
<circle cx="314.5" cy="240.9" r="1.55"/>
<circle cx="319.4" cy="243" r="1.55"/>
<circle cx="319.4" cy="249.9" r="1.55"/>
<circle cx="319.4" cy="256.5" r="1.55"/>
<circle cx="319.4" cy="265.8" r="1.55"/>
<circle cx="319.4" cy="273.6" r="1.55"/>
<circle cx="324.5" cy="276.4" r="1.55"/>
<circle cx="319.4" cy="278.8" r="1.55"/>
<circle cx="319.6" cy="285.6" r="1.55"/>
<circle cx="319.6" cy="301.7" r="1.55"/>
<circle cx="314.4" cy="305.5" r="1.55"/>
<circle cx="324.6" cy="305.8" r="1.55"/>
<circle cx="319.6" cy="307" r="1.55"/>
<circle cx="314.4" cy="310.9" r="1.55"/>
<circle cx="314.4" cy="313.4" r="1.55"/>
<circle cx="319.6" cy="312.8" r="1.55"/>
<circle cx="324.6" cy="312.8" r="1.55"/>
<circle cx="319.6" cy="321.2" r="1.55"/>
<circle cx="314.4" cy="324.4" r="1.55"/>
<circle cx="319.6" cy="326.6" r="1.55"/>
<circle cx="319.6" cy="332.9" r="1.55"/>
<circle cx="324.6" cy="334.4" r="1.55"/>
<circle cx="314.4" cy="336.9" r="1.55"/>
<line x1="385.8" y1="90.7" x2="385.8" y2="103.3" stroke="#000" stroke-width="1.3"/>
<line x1="374.80" y1="90.7" x2="396.80" y2="90.7" stroke="#000" stroke-width="1.6"/>
<line x1="385.8" y1="114.2" x2="385.8" y2="292.1" stroke="#000" stroke-width="1.3"/>
<line x1="385.8" y1="336.5" x2="385.8" y2="353.9" stroke="#000" stroke-width="1.3"/>
<line x1="374.80" y1="353.9" x2="396.80" y2="353.9" stroke="#000" stroke-width="1.6"/>
<rect x="364.30" y="292.1" width="42.60" height="44.40" fill="url(#pdot)" stroke="#000" stroke-width="1.8"/>
<line x1="364.30" y1="323.9" x2="406.90" y2="323.9" stroke="#000" stroke-width="1.5"/>
<circle cx="383.4" cy="92.5" r="1.55"/>
<circle cx="388.6" cy="90.4" r="1.55"/>
<circle cx="388.6" cy="94.1" r="1.55"/>
<circle cx="385.8" cy="101.1" r="1.55"/>
<circle cx="385.8" cy="117.7" r="1.55"/>
<circle cx="385.8" cy="180.2" r="1.55"/>
<circle cx="385.8" cy="197.7" r="1.55"/>
<circle cx="385.8" cy="206.7" r="1.55"/>
<circle cx="385.8" cy="234.9" r="1.55"/>
<circle cx="385.8" cy="248.1" r="1.55"/>
<circle cx="383.2" cy="254.7" r="1.55"/>
<circle cx="388.5" cy="255.6" r="1.55"/>
<circle cx="383.4" cy="266.2" r="1.55"/>
<circle cx="388.6" cy="266.2" r="1.55"/>
<circle cx="383.4" cy="272.1" r="1.55"/>
<circle cx="388.6" cy="270" r="1.55"/>
<circle cx="386" cy="277.8" r="1.55"/>
<circle cx="383.4" cy="288.2" r="1.55"/>
<circle cx="388.6" cy="287" r="1.55"/>
<circle cx="378.2" cy="291.6" r="1.55"/>
<circle cx="388.6" cy="291.9" r="1.55"/>
<circle cx="383.4" cy="294.2" r="1.55"/>
<circle cx="388.6" cy="296" r="1.55"/>
<circle cx="386" cy="298.8" r="1.55"/>
<circle cx="383.4" cy="301.7" r="1.55"/>
<circle cx="388.6" cy="301.5" r="1.55"/>
<circle cx="393.8" cy="307.5" r="1.55"/>
<circle cx="378.2" cy="309.8" r="1.55"/>
<circle cx="383.2" cy="310.7" r="1.55"/>
<circle cx="383.2" cy="321.4" r="1.55"/>
<circle cx="383.2" cy="325.8" r="1.55"/>
<circle cx="383.2" cy="333.4" r="1.55"/>
<circle cx="383.2" cy="337.8" r="1.55"/>
<circle cx="383.2" cy="346.6" r="1.55"/>
<circle cx="383.2" cy="353.9" r="1.55"/>
<circle cx="388.5" cy="308.2" r="1.55"/>
<circle cx="388.5" cy="312.6" r="1.55"/>
<circle cx="388.5" cy="315.7" r="1.55"/>
<circle cx="388.5" cy="320.1" r="1.55"/>
<circle cx="388.5" cy="326.4" r="1.55"/>
<circle cx="388.5" cy="330.2" r="1.55"/>
<circle cx="388.5" cy="335.2" r="1.55"/>
<circle cx="388.5" cy="339" r="1.55"/>
<circle cx="388.5" cy="342.2" r="1.55"/>
<circle cx="388.5" cy="345.3" r="1.55"/>
<circle cx="378.1" cy="315.7" r="1.55"/>
<circle cx="378.1" cy="319.5" r="1.55"/>
<circle cx="378.1" cy="325.8" r="1.55"/>
<circle cx="378.1" cy="330.2" r="1.55"/>
<circle cx="378.1" cy="333.7" r="1.55"/>
<circle cx="378.1" cy="337.8" r="1.55"/>
<circle cx="378.1" cy="340.3" r="1.55"/>
<circle cx="378.1" cy="344.7" r="1.55"/>
<circle cx="393.5" cy="310.7" r="1.55"/>
<circle cx="393.5" cy="317.6" r="1.55"/>
<circle cx="393.5" cy="320.1" r="1.55"/>
<circle cx="393.5" cy="326.4" r="1.55"/>
<circle cx="393.5" cy="331.2" r="1.55"/>
<circle cx="393.5" cy="334" r="1.55"/>
<circle cx="393.5" cy="339" r="1.55"/>
<circle cx="393.5" cy="344.7" r="1.55"/>
<circle cx="373.1" cy="325.2" r="1.55"/>
<circle cx="373.1" cy="330" r="1.55"/>
<circle cx="373.1" cy="334.6" r="1.55"/>
<circle cx="373.1" cy="337.8" r="1.55"/>
<circle cx="373.1" cy="343.4" r="1.55"/>
<circle cx="367.8" cy="330.8" r="1.55"/>
<circle cx="367.8" cy="334.6" r="1.55"/>
<circle cx="367.8" cy="337.1" r="1.55"/>
<circle cx="367.8" cy="345.9" r="1.55"/>
<circle cx="398.5" cy="327" r="1.55"/>
<circle cx="398.5" cy="333" r="1.55"/>
<circle cx="398.5" cy="337.8" r="1.55"/>
<circle cx="398.5" cy="339.6" r="1.55"/>
<circle cx="398.5" cy="344" r="1.55"/>
<circle cx="403.6" cy="332.7" r="1.55"/>
<circle cx="403.6" cy="337.1" r="1.55"/>
<circle cx="403.6" cy="344.7" r="1.55"/>
<line x1="452.2" y1="70.7" x2="452.2" y2="103.3" stroke="#000" stroke-width="1.3"/>
<line x1="441.20" y1="70.7" x2="463.20" y2="70.7" stroke="#000" stroke-width="1.6"/>
<line x1="452.2" y1="114.2" x2="452.2" y2="178.3" stroke="#000" stroke-width="1.3"/>
<line x1="452.2" y1="304.2" x2="452.2" y2="340.6" stroke="#000" stroke-width="1.3"/>
<line x1="441.20" y1="340.6" x2="463.20" y2="340.6" stroke="#000" stroke-width="1.6"/>
<rect x="430.90" y="178.3" width="42.60" height="125.90" fill="url(#phatch)" stroke="#000" stroke-width="1.8"/>
<line x1="430.90" y1="254.2" x2="473.50" y2="254.2" stroke="#000" stroke-width="1.5"/>
<circle cx="452.2" cy="70.7" r="1.55"/>
<circle cx="452.2" cy="77" r="1.55"/>
<circle cx="444.6" cy="92.1" r="1.55"/>
<circle cx="459.8" cy="91.5" r="1.55"/>
<circle cx="449.6" cy="93.8" r="1.55"/>
<circle cx="449.6" cy="97.7" r="1.55"/>
<circle cx="454.8" cy="97.6" r="1.55"/>
<circle cx="439.5" cy="102.9" r="1.55"/>
<circle cx="444.6" cy="102.4" r="1.55"/>
<circle cx="449.6" cy="102.6" r="1.55"/>
<circle cx="454.8" cy="102.6" r="1.55"/>
<circle cx="459.8" cy="102.8" r="1.55"/>
<circle cx="465.1" cy="101.4" r="1.55"/>
<circle cx="452.2" cy="124.4" r="1.55"/>
<circle cx="452.2" cy="133.8" r="1.55"/>
<circle cx="452.2" cy="147.4" r="1.55"/>
<circle cx="452.2" cy="173.5" r="1.55"/>
<circle cx="449.6" cy="177.2" r="1.55"/>
<circle cx="455.1" cy="176.6" r="1.55"/>
<circle cx="452.2" cy="188.6" r="1.55"/>
<circle cx="452.2" cy="194.6" r="1.55"/>
<circle cx="449.6" cy="197.6" r="1.55"/>
<circle cx="455.1" cy="198.3" r="1.55"/>
<circle cx="452.2" cy="205.2" r="1.55"/>
<circle cx="452.2" cy="212.5" r="1.55"/>
<circle cx="449.6" cy="215.9" r="1.55"/>
<circle cx="455.1" cy="217.7" r="1.55"/>
<circle cx="449.6" cy="232.1" r="1.55"/>
<circle cx="455.1" cy="232.1" r="1.55"/>
<circle cx="449.6" cy="235.1" r="1.55"/>
<circle cx="455.1" cy="236.5" r="1.55"/>
<circle cx="452.2" cy="241" r="1.55"/>
<circle cx="449.6" cy="247.6" r="1.55"/>
<circle cx="449.6" cy="249.8" r="1.55"/>
<circle cx="455.1" cy="249.1" r="1.55"/>
<circle cx="444.5" cy="252.7" r="1.55"/>
<circle cx="449.6" cy="253.5" r="1.55"/>
<circle cx="455.1" cy="254.9" r="1.55"/>
<circle cx="449.6" cy="257.6" r="1.55"/>
<circle cx="455.1" cy="259.3" r="1.55"/>
<circle cx="444.5" cy="263" r="1.55"/>
<circle cx="449.6" cy="265.2" r="1.55"/>
<circle cx="455.1" cy="265.2" r="1.55"/>
<circle cx="455.1" cy="267.8" r="1.55"/>
<circle cx="444.5" cy="275.5" r="1.55"/>
<circle cx="449.6" cy="276.6" r="1.55"/>
<circle cx="455.1" cy="275.5" r="1.55"/>
<circle cx="459.8" cy="276.6" r="1.55"/>
<circle cx="455.1" cy="278.8" r="1.55"/>
<circle cx="455.1" cy="289" r="1.55"/>
<circle cx="444.5" cy="290.9" r="1.55"/>
<circle cx="449.6" cy="293.1" r="1.55"/>
<circle cx="455.1" cy="293.4" r="1.55"/>
<circle cx="459.8" cy="293.8" r="1.55"/>
<circle cx="444.5" cy="304.7" r="1.55"/>
<circle cx="455.1" cy="303.9" r="1.55"/>
<circle cx="459.8" cy="304.7" r="1.55"/>
<circle cx="455.1" cy="307.3" r="1.55"/>
<circle cx="452.2" cy="309.5" r="1.55"/>
<circle cx="455.1" cy="314.9" r="1.55"/>
<circle cx="449.6" cy="316.1" r="1.55"/>
<circle cx="449.6" cy="318.6" r="1.55"/>
<circle cx="444.5" cy="320.4" r="1.55"/>
<circle cx="459.8" cy="320.5" r="1.55"/>
<circle cx="455.1" cy="322" r="1.55"/>
<circle cx="449.6" cy="324.5" r="1.55"/>
<circle cx="455.1" cy="325.9" r="1.55"/>
<circle cx="455.1" cy="328.4" r="1.55"/>
<circle cx="444.5" cy="328.6" r="1.55"/>
<circle cx="449.6" cy="329.3" r="1.55"/>
<circle cx="459.8" cy="329.3" r="1.55"/>
<circle cx="449.6" cy="336.2" r="1.55"/>
<circle cx="455.1" cy="337.2" r="1.55"/>
<circle cx="452.2" cy="340.6" r="1.55"/>
<line x1="518.6" y1="98.6" x2="518.6" y2="103.3" stroke="#000" stroke-width="1.3"/>
<line x1="507.60" y1="98.6" x2="529.60" y2="98.6" stroke="#000" stroke-width="1.6"/>
<line x1="518.6" y1="114.2" x2="518.6" y2="282.5" stroke="#000" stroke-width="1.3"/>
<line x1="518.6" y1="328.7" x2="518.6" y2="349.5" stroke="#000" stroke-width="1.3"/>
<line x1="507.60" y1="349.5" x2="529.60" y2="349.5" stroke="#000" stroke-width="1.6"/>
<rect x="497.10" y="282.5" width="42.60" height="46.20" fill="url(#pdot)" stroke="#000" stroke-width="1.8"/>
<line x1="497.10" y1="317.6" x2="539.70" y2="317.6" stroke="#000" stroke-width="1.5"/>
<circle cx="518.6" cy="98.6" r="1.55"/>
<circle cx="518.6" cy="202.5" r="1.55"/>
<circle cx="518.6" cy="205.4" r="1.55"/>
<circle cx="516.1" cy="215.2" r="1.55"/>
<circle cx="521.2" cy="215.2" r="1.55"/>
<circle cx="518.6" cy="227" r="1.55"/>
<circle cx="518.6" cy="250.1" r="1.55"/>
<circle cx="518.6" cy="259.8" r="1.55"/>
<circle cx="515.8" cy="266.1" r="1.55"/>
<circle cx="521.2" cy="266.1" r="1.55"/>
<circle cx="515.8" cy="273" r="1.55"/>
<circle cx="521.2" cy="275.6" r="1.55"/>
<circle cx="518.6" cy="280.2" r="1.55"/>
<circle cx="518.6" cy="286.5" r="1.55"/>
<circle cx="518.6" cy="299.1" r="1.55"/>
<circle cx="518.6" cy="301.9" r="1.55"/>
<circle cx="513.3" cy="307.7" r="1.55"/>
<circle cx="518.6" cy="308.5" r="1.55"/>
<circle cx="523.7" cy="306" r="1.55"/>
<circle cx="510.8" cy="312" r="1.55"/>
<circle cx="515.8" cy="311.3" r="1.55"/>
<circle cx="521.2" cy="312" r="1.55"/>
<circle cx="526.2" cy="313.8" r="1.55"/>
<circle cx="510.8" cy="315.7" r="1.55"/>
<circle cx="515.8" cy="314.5" r="1.55"/>
<circle cx="521.2" cy="316.1" r="1.55"/>
<circle cx="515.8" cy="317.6" r="1.55"/>
<circle cx="500.7" cy="322" r="1.55"/>
<circle cx="505.7" cy="322.7" r="1.55"/>
<circle cx="510.8" cy="320.8" r="1.55"/>
<circle cx="510.8" cy="323.9" r="1.55"/>
<circle cx="505.7" cy="325.2" r="1.55"/>
<circle cx="515.8" cy="324.5" r="1.55"/>
<circle cx="521.2" cy="323.9" r="1.55"/>
<circle cx="526.2" cy="324.5" r="1.55"/>
<circle cx="531.3" cy="324.5" r="1.55"/>
<circle cx="536.6" cy="323.9" r="1.55"/>
<circle cx="515.8" cy="327.1" r="1.55"/>
<circle cx="521.2" cy="326.4" r="1.55"/>
<circle cx="515.8" cy="329.6" r="1.55"/>
<circle cx="521.2" cy="329.6" r="1.55"/>
<circle cx="515.8" cy="332.1" r="1.55"/>
<circle cx="521.2" cy="332.1" r="1.55"/>
<circle cx="515.8" cy="334" r="1.55"/>
<circle cx="521.2" cy="335.2" r="1.55"/>
<circle cx="515.8" cy="336.5" r="1.55"/>
<circle cx="510.8" cy="339.3" r="1.55"/>
<circle cx="515.8" cy="340.5" r="1.55"/>
<circle cx="521.2" cy="339" r="1.55"/>
<circle cx="521.2" cy="341.5" r="1.55"/>
<circle cx="526.2" cy="338" r="1.55"/>
<circle cx="518.6" cy="347.6" r="1.55"/>
<circle cx="523.7" cy="348.1" r="1.55"/>
<circle cx="513.3" cy="349.7" r="1.55"/>
<line x1="584.9" y1="97.6" x2="584.9" y2="103.3" stroke="#000" stroke-width="1.3"/>
<line x1="573.90" y1="97.6" x2="595.90" y2="97.6" stroke="#000" stroke-width="1.6"/>
<line x1="584.9" y1="114.2" x2="584.9" y2="217.7" stroke="#000" stroke-width="1.3"/>
<line x1="584.9" y1="310.2" x2="584.9" y2="328.6" stroke="#000" stroke-width="1.3"/>
<line x1="573.90" y1="328.6" x2="595.90" y2="328.6" stroke="#000" stroke-width="1.6"/>
<rect x="563.60" y="217.7" width="42.60" height="92.50" fill="url(#phatch)" stroke="#000" stroke-width="1.8"/>
<line x1="563.60" y1="276.4" x2="606.20" y2="276.4" stroke="#000" stroke-width="1.5"/>
<circle cx="584.9" cy="97.6" r="1.55"/>
<circle cx="579.7" cy="102" r="1.55"/>
<circle cx="584.9" cy="103" r="1.55"/>
<circle cx="590.4" cy="100.8" r="1.55"/>
<circle cx="584.9" cy="147.9" r="1.55"/>
<circle cx="584.9" cy="168.1" r="1.55"/>
<circle cx="584.9" cy="212.4" r="1.55"/>
<circle cx="584.9" cy="218.6" r="1.55"/>
<circle cx="584.9" cy="233" r="1.55"/>
<circle cx="584.9" cy="235.8" r="1.55"/>
<circle cx="584.9" cy="261" r="1.55"/>
<circle cx="579.7" cy="267.4" r="1.55"/>
<circle cx="579.7" cy="269.5" r="1.55"/>
<circle cx="584.9" cy="269.7" r="1.55"/>
<circle cx="590.2" cy="269.3" r="1.55"/>
<circle cx="582.2" cy="284.3" r="1.55"/>
<circle cx="587.5" cy="283.1" r="1.55"/>
<circle cx="584.9" cy="289.3" r="1.55"/>
<circle cx="579.8" cy="301.8" r="1.55"/>
<circle cx="590.2" cy="299.3" r="1.55"/>
<circle cx="590.2" cy="301.8" r="1.55"/>
<circle cx="584.9" cy="308" r="1.55"/>
<circle cx="582.2" cy="311.1" r="1.55"/>
<circle cx="587.6" cy="311.1" r="1.55"/>
<circle cx="579.7" cy="315" r="1.55"/>
<circle cx="584.9" cy="316" r="1.55"/>
<circle cx="584.9" cy="318.9" r="1.55"/>
<circle cx="584.9" cy="321.8" r="1.55"/>
<circle cx="584.9" cy="325.9" r="1.55"/>
<circle cx="579.7" cy="329" r="1.55"/>
<circle cx="590" cy="327.3" r="1.55"/>
<text x="186.5" y="88.10" text-anchor="middle" class="dg">&#8225;</text>
<text x="319.5" y="9.20" text-anchor="middle" class="dg">&#8225;</text>
<text x="452.1" y="62.50" text-anchor="middle" class="dg">&#8225;</text>
<text x="584.9" y="89.00" text-anchor="middle" class="dg">&#8225;</text>
<line x1="120.4" y1="357.8" x2="120.4" y2="361.8" stroke="#8a8a8a" stroke-width="1.2"/>
<text transform="translate(125.10,362.9) rotate(-90) scale(0.887,1)" text-anchor="end" class="xl">Baseline</text>
<line x1="186.6" y1="357.8" x2="186.6" y2="361.8" stroke="#8a8a8a" stroke-width="1.2"/>
<text transform="translate(191.30,362.9) rotate(-90) scale(0.89,1)" text-anchor="end" class="xl">Post Fire</text>
<line x1="253.1" y1="357.8" x2="253.1" y2="361.8" stroke="#8a8a8a" stroke-width="1.2"/>
<text transform="translate(257.80,362.9) rotate(-90) scale(0.887,1)" text-anchor="end" class="xl">Baseline</text>
<line x1="319.4" y1="357.8" x2="319.4" y2="361.8" stroke="#8a8a8a" stroke-width="1.2"/>
<text transform="translate(324.10,362.9) rotate(-90) scale(0.89,1)" text-anchor="end" class="xl">Post Fire</text>
<line x1="385.8" y1="357.8" x2="385.8" y2="361.8" stroke="#8a8a8a" stroke-width="1.2"/>
<text transform="translate(390.50,362.9) rotate(-90) scale(0.887,1)" text-anchor="end" class="xl">Baseline</text>
<line x1="452.2" y1="357.8" x2="452.2" y2="361.8" stroke="#8a8a8a" stroke-width="1.2"/>
<text transform="translate(456.90,362.9) rotate(-90) scale(0.89,1)" text-anchor="end" class="xl">Post Fire</text>
<line x1="518.6" y1="357.8" x2="518.6" y2="361.8" stroke="#8a8a8a" stroke-width="1.2"/>
<text transform="translate(523.30,362.9) rotate(-90) scale(0.887,1)" text-anchor="end" class="xl">Baseline</text>
<line x1="584.9" y1="357.8" x2="584.9" y2="361.8" stroke="#8a8a8a" stroke-width="1.2"/>
<text transform="translate(589.60,362.9) rotate(-90) scale(0.89,1)" text-anchor="end" class="xl">Post Fire</text>
<text transform="translate(120.3,472.5) scale(0.98,1)" class="gl">Captains</text>
<text transform="translate(246.8,472.5) scale(0.994,1)" class="gl">Engineers</text>
<text transform="translate(371.2,472.5) scale(0.993,1)" class="gl">Firefighters</text>
<text transform="translate(504.7,472.5) scale(0.997,1)" class="gl">Paramedics</text>
<text x="575.6" y="26.1" class="lg"><tspan style="stroke-width:0.45px">&#8225;</tspan> - p&lt;0.001</text>
</svg>
</body></html>
